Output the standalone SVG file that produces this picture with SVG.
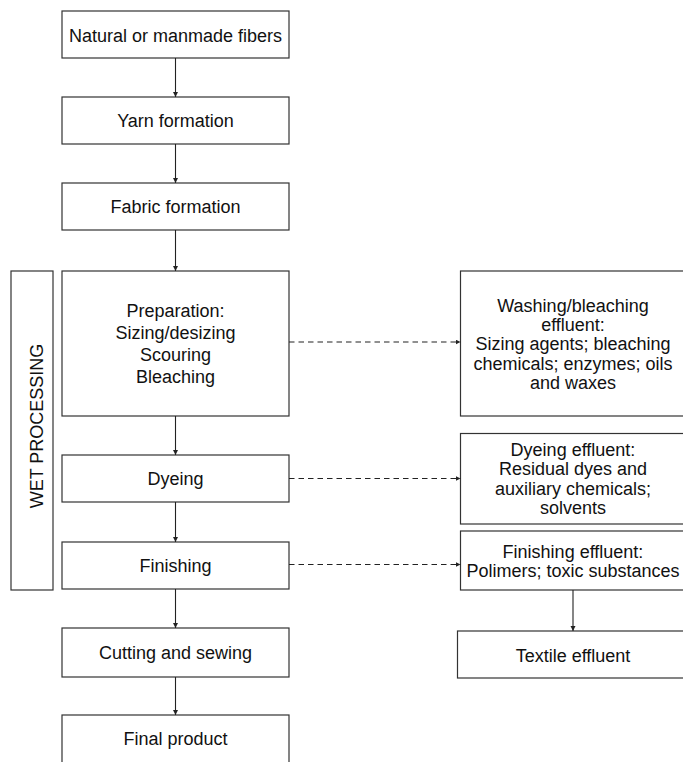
<svg xmlns="http://www.w3.org/2000/svg" width="683" height="762" viewBox="0 0 683 762">
<style>
.box{fill:#fff;stroke:#333;stroke-width:1.2}
.t{font-family:"Liberation Sans",Arial,sans-serif;font-size:18px;fill:#111;text-anchor:middle}
.c{stroke:#222;stroke-width:1.1;fill:none}
.d{stroke:#222;stroke-width:1.1;fill:none;stroke-dasharray:5.5 4}
</style>
<defs>
<marker id="ah" markerUnits="userSpaceOnUse" markerWidth="6" markerHeight="6" refX="5" refY="2.5" orient="auto">
<path d="M0,0 L5,2.5 L0,5 z" fill="#222"/>
</marker>
</defs>
<rect width="683" height="762" fill="#fff"/>
<g id="wet">
<rect class="box" x="11" y="271" width="42" height="319"/>
<text class="t" transform="translate(43,426) rotate(-90)">WET PROCESSING</text>
</g>
<g id="fibers"><rect class="box" x="62" y="11" width="227" height="47"/><text class="t" x="175.5" y="41.5">Natural or manmade fibers</text></g>
<g id="yarn"><rect class="box" x="62" y="97" width="227" height="47"/><text class="t" x="175.5" y="127">Yarn formation</text></g>
<g id="fabric"><rect class="box" x="62" y="183" width="227" height="47"/><text class="t" x="175.5" y="213">Fabric formation</text></g>
<g id="prep"><rect class="box" x="62" y="271" width="227" height="145"/>
<text class="t" x="175.5" y="316.5">Preparation:</text>
<text class="t" x="175.5" y="338.5">Sizing/desizing</text>
<text class="t" x="175.5" y="361">Scouring</text>
<text class="t" x="175.5" y="383">Bleaching</text></g>
<g id="dyeing"><rect class="box" x="62" y="455" width="227" height="47"/><text class="t" x="175.5" y="485">Dyeing</text></g>
<g id="finishing"><rect class="box" x="62" y="542" width="227" height="47"/><text class="t" x="175.5" y="572">Finishing</text></g>
<g id="cutting"><rect class="box" x="62" y="628" width="227" height="49"/><text class="t" x="175.5" y="659">Cutting and sewing</text></g>
<g id="final"><rect class="box" x="62" y="715" width="227" height="60"/><text class="t" x="175.5" y="745">Final product</text></g>
<g id="washeff"><rect class="box" x="460.5" y="271" width="226" height="145"/>
<text class="t" x="573" y="311.5">Washing/bleaching</text>
<text class="t" x="573" y="330.8">effluent:</text>
<text class="t" x="573" y="350.2">Sizing agents; bleaching</text>
<text class="t" x="573" y="369.8">chemicals; enzymes; oils</text>
<text class="t" x="573" y="389.2">and waxes</text></g>
<g id="dyeeff"><rect class="box" x="460.5" y="433.5" width="226" height="90.5"/>
<text class="t" x="573" y="455.5">Dyeing effluent:</text>
<text class="t" x="573" y="475">Residual dyes and</text>
<text class="t" x="573" y="494.6">auxiliary chemicals;</text>
<text class="t" x="573" y="514">solvents</text></g>
<g id="fineff"><rect class="box" x="460.5" y="531" width="226" height="59"/>
<text class="t" x="573" y="557.5">Finishing effluent:</text>
<text class="t" x="573" y="577">Polimers; toxic substances</text></g>
<g id="textile"><rect class="box" x="457.5" y="631" width="232" height="47"/><text class="t" x="573" y="661.5">Textile effluent</text></g>
<g id="connectors">
<line class="c" x1="175.5" y1="58" x2="175.5" y2="97" marker-end="url(#ah)"/>
<line class="c" x1="175.5" y1="144" x2="175.5" y2="183" marker-end="url(#ah)"/>
<line class="c" x1="175.5" y1="230" x2="175.5" y2="271" marker-end="url(#ah)"/>
<line class="c" x1="175.5" y1="416" x2="175.5" y2="455" marker-end="url(#ah)"/>
<line class="c" x1="175.5" y1="502" x2="175.5" y2="542" marker-end="url(#ah)"/>
<line class="c" x1="175.5" y1="589" x2="175.5" y2="628" marker-end="url(#ah)"/>
<line class="c" x1="175.5" y1="677" x2="175.5" y2="715" marker-end="url(#ah)"/>
<line class="c" x1="573" y1="590" x2="573" y2="631" marker-end="url(#ah)"/>
<line class="d" x1="289" y1="342" x2="460.5" y2="342" marker-end="url(#ah)"/>
<line class="d" x1="289" y1="478.5" x2="460.5" y2="478.5" marker-end="url(#ah)"/>
<line class="d" x1="289" y1="564.5" x2="460.5" y2="564.5" marker-end="url(#ah)"/>
</g>
</svg>
